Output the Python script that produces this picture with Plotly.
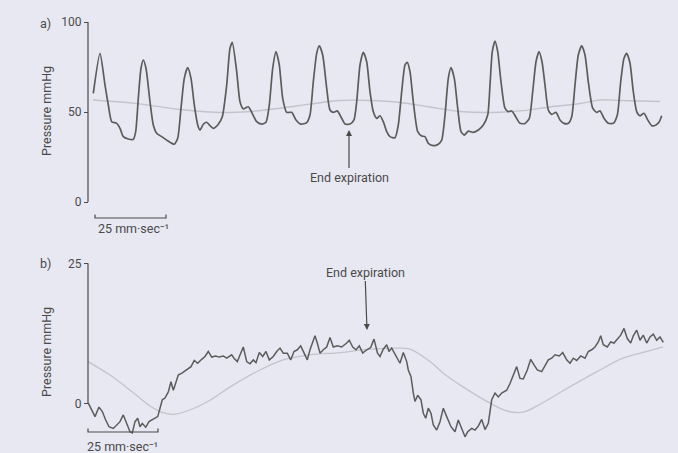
import plotly.graph_objects as go

# ---------------- data (time in chart-paper units, pressure in mmHg) ----------------
a_time = [93.3, 100, 105, 108.3, 111.7, 116.7, 120, 123.3, 128.3, 133.3,
          135.7, 138.3, 141, 143.3, 146, 150, 153.3, 156.7, 161.7, 166.7,
          171.7, 174.3, 177.7, 181, 184.3, 187.7, 191, 194.3, 197.7, 200,
          203.3, 206.7, 210, 213.3, 218.3, 222.3, 226.7, 230, 232.3, 236.7,
          240, 243.3, 248.3, 251.7, 256.7, 261.7, 266, 269.3, 272.7, 276,
          279.3, 282.7, 286.7, 291.7, 296, 300.7, 306.7, 310, 313.3, 316.7,
          319.3, 322.7, 326.7, 330, 333.3, 337.3, 341.7, 345, 350, 354,
          356.7, 360, 363.3, 366.7, 370, 373.3, 376.7, 380, 383.3, 386.7,
          390, 395, 398.3, 401.7, 405, 407.3, 410, 413.3, 417.7, 421.7,
          425, 428.3, 433.3, 438.3, 441.7, 445, 448.3, 451, 454.3, 457.7,
          461, 464.3, 468.3, 473.3, 478.3, 483.3, 487.7, 490, 492.3, 495,
          497.7, 501, 505, 508.3, 511.7, 515.7, 520, 525, 529.3, 532.7,
          536, 539, 542, 545, 548.3, 551.7, 556, 560, 564, 568.3,
          571.7, 575, 578.3, 581.7, 585, 588.3, 592.7, 596.7, 600, 604,
          608.3, 613.3, 617.3, 620.7, 624, 626.7, 630, 633.3, 636.7, 640,
          644, 647.7, 651.7, 656, 659.3, 661.7]
a_pressure = [60.4, 82.6, 65.0, 53.9, 44.6, 43.7, 40.9, 36.3, 35.0, 34.8,
              39.1, 57.6, 74.3, 78.9, 74.3, 55.7, 42.8, 38.2, 36.3, 34.4,
              32.6, 32.1, 35.4, 52.1, 68.7, 74.6, 68.7, 53.9, 42.8, 40.0,
              43.2, 44.3, 42.4, 40.9, 43.2, 47.4, 65.0, 85.4, 88.7, 72.4,
              55.7, 51.7, 52.9, 49.8, 44.6, 43.3, 44.3, 53.9, 74.3, 83.5,
              76.1, 57.6, 49.8, 49.8, 45.6, 43.3, 44.1, 48.3, 66.8, 82.6,
              86.8, 81.7, 63.2, 51.1, 49.8, 50.6, 46.5, 43.3, 43.3, 45.6,
              55.7, 76.1, 83.2, 77.9, 61.3, 50.2, 46.5, 47.9, 44.6, 39.1,
              36.3, 35.7, 42.8, 61.3, 76.1, 77.6, 72.4, 55.7, 39.1, 36.7,
              36.3, 32.6, 31.3, 32.1, 34.4, 48.3, 68.7, 74.6, 68.7, 52.1,
              39.1, 37.2, 39.4, 38.7, 40.0, 42.8, 48.3, 65.0, 83.5, 89.4,
              83.5, 66.8, 52.1, 50.2, 50.6, 47.4, 43.7, 43.6, 46.5, 61.3,
              77.9, 83.5, 77.9, 65.0, 51.1, 48.7, 49.8, 45.6, 43.7, 43.7,
              47.4, 65.0, 81.7, 86.7, 81.7, 66.8, 52.1, 49.8, 50.6, 46.5,
              43.7, 43.7, 48.3, 66.8, 79.8, 82.6, 77.1, 61.3, 50.2, 47.9,
              49.3, 45.6, 42.4, 42.8, 44.6, 47.9]

a_ref_time = [93, 135, 185, 222, 250, 280, 310, 340, 370, 400,
              430, 460, 490, 520, 550, 580, 600, 620, 660]
a_ref_pressure = [56.7, 54.8, 51.1, 49.7, 50.3, 52.1, 54.4, 56.4, 56.4, 55.3,
                  52.8, 50.3, 49.7, 50.6, 52.8, 54.7, 56.7, 56.4, 55.8]

b_time = [88.3, 91.7, 95, 99, 102.3, 105.7, 109, 113.3, 116.7, 120,
          123.3, 126.7, 130, 132.3, 135, 137.7, 140, 142.3, 145.7, 149,
          152.3, 155, 157.7, 160, 162.3, 165, 168.3, 171, 173.3, 175,
          178.3, 182.3, 186.7, 191, 194.3, 197.7, 201.7, 205, 208.3, 211.7,
          215.7, 219, 223.3, 226.7, 231.7, 234, 237.3, 240.7, 243.3, 246.7,
          250, 253.3, 256, 259.3, 262.7, 266, 269.3, 273.3, 276.7, 280,
          283.3, 287.3, 290.7, 294, 297.3, 300.7, 303.3, 307.3, 310, 313.3,
          315, 317.3, 320, 323.3, 326.7, 330, 333.3, 337.3, 341.7, 346.7,
          349.3, 352.7, 356, 359.3, 362.7, 366.7, 370.7, 374, 377.5, 380,
          383.3, 386.7, 389, 391.7, 394.3, 396.7, 400, 403.3, 406.7, 408.3,
          411, 413.3, 415, 417.7, 421, 423.3, 425.7, 428.3, 431, 433.3,
          436.7, 440, 443.3, 446.7, 451, 455, 458.3, 461.7, 465, 467.7,
          471.7, 475, 478.3, 481.7, 485, 488.3, 491.7, 495, 498.3, 501.7,
          506.7, 510, 513.3, 516.7, 520, 523.3, 527.3, 530.7, 534, 537.3,
          541.7, 545, 548.3, 551.7, 555, 559.3, 562.7, 566.7, 570, 573.3,
          576.7, 580.7, 585, 588.3, 591.7, 595, 598.3, 600.7, 603.3, 607.3,
          610.7, 614, 617.3, 620.7, 624, 627.3, 630.7, 633.3, 636.7, 640,
          643.3, 646.7, 650, 653.3, 656.7, 660, 663.3]
b_pressure = [0.1, -1.1, -2.3, -0.6, -1.4, -2.9, -4.1, -4.4, -3.8, -3.2,
              -2.0, -3.5, -5.0, -5.2, -3.2, -2.6, -4.1, -3.5, -4.2, -3.2,
              -2.9, -2.6, -2.3, -0.8, 0.7, 1.0, 2.1, 3.9, 2.4, 3.3,
              5.1, 5.5, 6.0, 6.6, 7.7, 7.2, 7.9, 8.4, 9.3, 8.3,
              8.5, 8.3, 8.5, 8.1, 8.7, 8.1, 7.5, 9.1, 10.1, 7.5,
              7.1, 7.8, 7.3, 9.1, 8.4, 9.3, 7.8, 8.4, 9.3, 9.9,
              9.0, 9.0, 7.8, 9.3, 9.6, 10.3, 9.3, 7.8, 9.6, 11.3,
              12.1, 10.8, 9.0, 9.6, 10.1, 11.8, 10.1, 10.3, 10.1, 10.8,
              11.3, 10.1, 9.6, 10.3, 9.0, 9.6, 10.0, 11.5, 9.0, 8.4,
              9.7, 10.5, 9.3, 9.9, 9.0, 8.4, 7.2, 9.1, 7.5, 6.0,
              4.8, 1.9, 0.4, 1.5, 0.7, -1.7, -2.6, -0.8, -1.7, -3.8,
              -4.7, -3.2, -0.8, -2.3, -4.1, -5.0, -2.9, -4.4, -5.9, -5.0,
              -4.4, -4.7, -4.0, -2.8, -4.6, -3.5, 0.7, 1.9, 1.2, 1.9,
              2.4, 3.6, 5.1, 6.6, 4.5, 4.4, 6.0, 7.9, 6.9, 6.0,
              5.7, 6.9, 7.8, 8.1, 8.7, 8.5, 9.1, 7.8, 7.2, 8.1,
              7.7, 8.5, 8.1, 9.3, 9.6, 10.1, 11.0, 12.1, 10.5, 10.1,
              11.0, 10.8, 11.5, 12.2, 13.4, 11.6, 10.8, 12.1, 13.1, 11.3,
              12.2, 10.8, 11.9, 12.4, 11.3, 11.9, 10.9]

b_ref_time = [88, 110, 133, 150, 163, 173, 187, 207, 233, 260,
              283, 310, 340, 363, 397, 410, 430, 445, 463, 490,
              507, 523, 537, 563, 597, 623, 647, 663]
b_ref_pressure = [7.5, 5.1, 2.0, -0.4, -1.6, -1.9, -1.3, 0.3, 3.3, 6.0,
                  7.8, 8.7, 9.1, 9.6, 9.9, 9.7, 7.5, 5.2, 3.0, 0.1,
                  -1.3, -1.5, -0.4, 2.3, 5.7, 8.1, 9.3, 10.1]

a_ticks = [0, 50, 100]
b_ticks = [0, 25]

# ---------------- layout geometry / style ----------------
W, H = 678, 453
ML, MR = 86, 6
PW = W - ML - MR
BG = "#e8e8f2"
DARK = "#5c5c5c"
LIGHT = "#c3c3cc"
TXT = "#4a4a4a"
FONT = "Roboto, Liberation Sans, Arial, sans-serif"
FS = 12.5


def px(xp):
    return (xp - ML) / PW


def py(yp):
    return 1 - yp / H


# panel a: 100 mmHg at 22 px, 0 at 202 px ; panel b: 25 at 263.3 px, 0 at 403.7 px
A_TOP, A_BOT, A0, AK = 12, 232, 202.0, 1.8
B_TOP, B_BOT, B0, BK = 245, 450, 403.7, 5.616
a_range = [(A0 - A_BOT) / AK, (A0 - A_TOP) / AK]
b_range = [(B0 - B_BOT) / BK, (B0 - B_TOP) / BK]

fig = go.Figure()
fig.add_trace(go.Scatter(x=a_ref_time, y=a_ref_pressure, xaxis="x", yaxis="y", mode="lines",
                         line=dict(color=LIGHT, width=1.4, shape="spline", smoothing=1.0),
                         hoverinfo="skip"))
fig.add_trace(go.Scatter(x=a_time, y=a_pressure, xaxis="x", yaxis="y", mode="lines",
                         line=dict(color=DARK, width=1.7, shape="spline", smoothing=0.6)))
fig.add_trace(go.Scatter(x=b_ref_time, y=b_ref_pressure, xaxis="x2", yaxis="y2", mode="lines",
                         line=dict(color=LIGHT, width=1.3, shape="spline", smoothing=1.0),
                         hoverinfo="skip"))
fig.add_trace(go.Scatter(x=b_time, y=b_pressure, xaxis="x2", yaxis="y2", mode="lines",
                         line=dict(color=DARK, width=1.5)))

axis_pos = px(88)
common_x = dict(range=[ML, W - MR], visible=False, showgrid=False, zeroline=False, domain=[0, 1])
common_y = dict(anchor="free", position=axis_pos, showgrid=False, zeroline=False, showline=False,
                ticks="outside", ticklen=4, tickwidth=1.2, tickcolor=TXT,
                tickfont=dict(family=FONT, size=12, color=TXT))

fig.update_layout(
    width=W, height=H,
    margin=dict(l=ML, r=MR, t=0, b=0),
    paper_bgcolor=BG, plot_bgcolor=BG,
    showlegend=False,
    font=dict(family=FONT, size=FS, color=TXT),
    xaxis=dict(common_x, anchor="y"),
    xaxis2=dict(common_x, anchor="y2"),
    yaxis=dict(common_y, domain=[py(A_BOT), py(A_TOP)], range=a_range,
               tickvals=a_ticks, ticktext=[str(v) for v in a_ticks]),
    yaxis2=dict(common_y, domain=[py(B_BOT), py(B_TOP)], range=b_range,
                tickvals=b_ticks, ticktext=[str(v) for v in b_ticks]),
)

# axis spines (only over the labelled range)
fig.add_shape(type="line", xref="x", yref="y", x0=88, x1=88, y0=a_ticks[0], y1=a_ticks[-1],
              line=dict(color=TXT, width=1.2))
fig.add_shape(type="line", xref="x2", yref="y2", x0=88, x1=88, y0=b_ticks[0], y1=b_ticks[-1],
              line=dict(color=TXT, width=1.2))


def yv_a(yp):
    return (A0 - yp) / AK


def yv_b(yp):
    return (B0 - yp) / BK


# scale bars (25 mm . sec-1)
fig.add_shape(type="path", xref="x", yref="y",
              path=f"M95,{yv_a(214.5)} L95,{yv_a(218)} L166,{yv_a(218)} L166,{yv_a(214.5)}",
              line=dict(color=TXT, width=1.2))
fig.add_shape(type="path", xref="x2", yref="y2",
              path=f"M88,{yv_b(428.5)} L88,{yv_b(432)} L158,{yv_b(432)} L158,{yv_b(428.5)}",
              line=dict(color=TXT, width=1.2))

f = dict(size=FS, color=TXT)
c = dict(xref="paper", yref="paper", showarrow=False, font=f, xanchor="center", yanchor="middle")
ann = [
    dict(c, x=px(133), y=py(228), text="25 mm·sec⁻¹"),
    dict(c, x=px(122), y=py(446), text="25 mm·sec⁻¹"),
    dict(c, x=px(45), y=py(23), text="a)"),
    dict(c, x=px(45), y=py(263), text="b)"),
    dict(c, x=px(46), y=py(111), text="Pressure mmHg", textangle=-90),
    dict(c, x=px(46), y=py(352), text="Pressure mmHg", textangle=-90),
    dict(xref="x", yref="y", x=349, y=yv_a(130), ax=0, ay=47, text="End expiration",
         showarrow=True, arrowhead=2, arrowsize=1, arrowwidth=1.2, arrowcolor=TXT, font=f),
    dict(xref="x2", yref="y2", x=367, y=yv_b(330), ax=-2, ay=-58, text="End expiration",
         showarrow=True, arrowhead=2, arrowsize=1, arrowwidth=1.2, arrowcolor=TXT, font=f),
]
fig.update_layout(annotations=ann)

fig.write_html("out.html", config={"displayModeBar": False},
               post_script=f"document.body.style.margin='0';document.body.style.background='{BG}';")
